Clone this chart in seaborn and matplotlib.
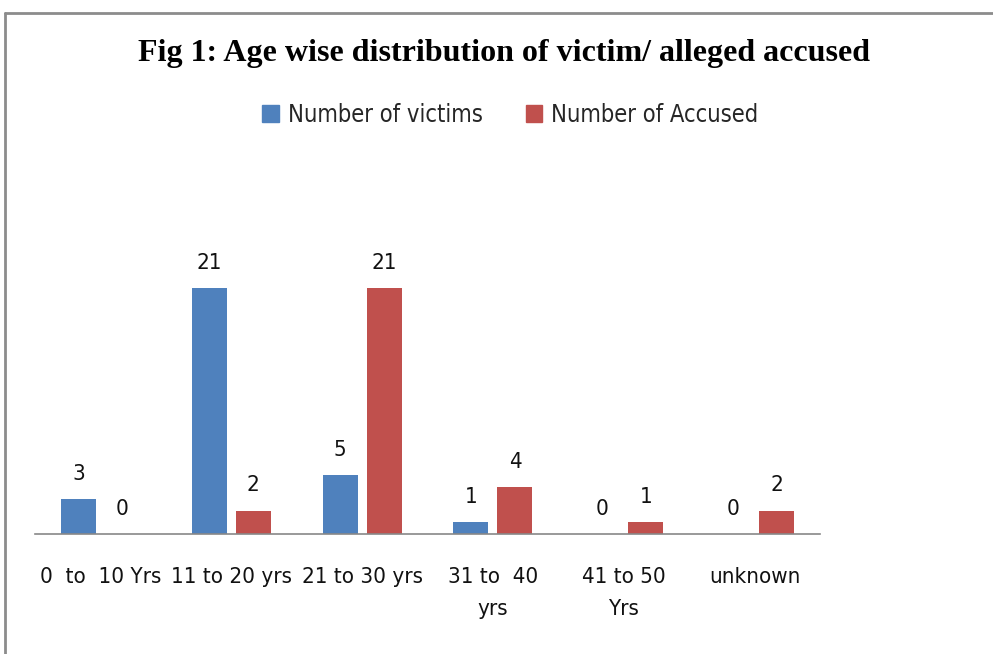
import matplotlib
matplotlib.use("Agg")
import matplotlib.pyplot as plt
from matplotlib.lines import Line2D
import seaborn as sns
import pandas as pd

categories = ["0  to  10 Yrs", "11 to 20 yrs", "21 to 30 yrs", "31 to  40\nyrs", "41 to 50\nYrs", "unknown"]
victims = [3, 21, 5, 1, 0, 0]
accused = [0, 2, 21, 4, 1, 2]
series_names = ["Number of victims", "Number of Accused"]
colors = ["#4F81BD", "#C0504D"]

df = pd.DataFrame({
    "Age": categories * 2,
    "Count": victims + accused,
    "Series": [series_names[0]] * len(categories) + [series_names[1]] * len(categories),
})

sns.set_theme(style="white")
plt.rcParams["font.family"] = ["DejaVu Sans"]
plt.rcParams["font.stretch"] = "condensed"

W, H = 993, 654
fig = plt.figure(figsize=(W / 100, H / 100), dpi=100)
ax_l, ax_r, ax_b, ax_t = 35, 820, 534, 241
ax = fig.add_axes([ax_l / W, (H - ax_b) / H, (ax_r - ax_l) / W, (ax_b - ax_t) / H])

sns.barplot(data=df, x="Age", y="Count", hue="Series", palette=colors,
            width=0.672, gap=0.205, ax=ax, legend=False, saturation=1, linewidth=0)

ax.set_ylim(0, 25)
ax.set_xlim(-0.5, len(categories) - 0.5)
ax.set_xlabel("")
ax.set_ylabel("")
ax.set_yticks([])
for s in ["top", "right", "left"]:
    ax.spines[s].set_visible(False)
ax.spines["bottom"].set_color("#888888")
ax.spines["bottom"].set_linewidth(1.2)
ax.tick_params(axis="x", length=0, pad=24, labelsize=16, colors="#111111")
for lbl in ax.get_xticklabels():
    lbl.set_linespacing(1.75)
    lbl.set_fontstretch("condensed")

for cont in ax.containers:
    ax.bar_label(cont, labels=[f"{int(v)}" for v in cont.datavalues],
                 padding=11, fontsize=16, color="#111111", fontstretch="condensed")

fig.text(0.508, 1 - 53 / H, "Fig 1: Age wise distribution of victim/ alleged accused",
         ha="center", va="center", fontsize=23, fontweight="bold",
         family=["Liberation Serif", "DejaVu Serif"], color="black")

handles = [plt.Rectangle((0, 0), 1, 1, color=c) for c in colors]
fig.legend(handles, series_names, loc="center", bbox_to_anchor=(0.514, 1 - 115 / H),
           ncol=2, frameon=False, prop={"size": 17, "stretch": "condensed"},
           handlelength=0.7, handleheight=0.7,
           handletextpad=0.4, columnspacing=1.8)

fig.add_artist(Line2D([5 / W, 1.0], [1 - 13 / H, 1 - 13 / H], color="#8C8C8C", lw=2))
fig.add_artist(Line2D([5 / W, 5 / W], [0, 1 - 13 / H], color="#8C8C8C", lw=2))

fig.savefig("out.png", dpi=100, facecolor="white")
